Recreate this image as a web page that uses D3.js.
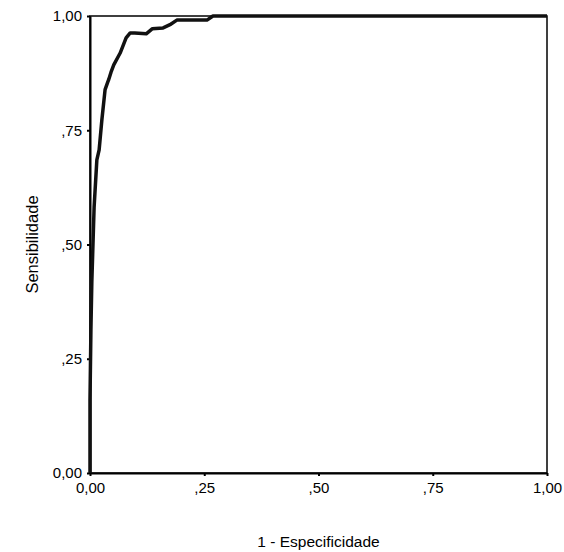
<!DOCTYPE html>
<html>
<head>
<meta charset="utf-8">
<script src="https://cdn.jsdelivr.net/npm/d3@7"></script>
<style>
  html, body { margin: 0; padding: 0; background: #fff; }
  svg { display: block; }
  text { font-family: "Liberation Sans", Arial, sans-serif; fill: #000; }
</style>
</head>
<body>
<svg id="chart" width="564" height="552"></svg>
<script>
// ROC curve: 1 - specificity (x) vs sensitivity (y)
const falsePositiveRate = [0, 0, 0.002, 0.004, 0.009, 0.015, 0.020, 0.026, 0.033, 0.039, 0.041, 0.046, 0.052, 0.066, 0.079, 0.088, 0.098, 0.123, 0.136, 0.160, 0.175, 0.190, 0.256, 0.269, 1];
const sensitivity      = [0, 0.160, 0.313, 0.418, 0.582, 0.685, 0.707, 0.773, 0.839, 0.856, 0.861, 0.877, 0.893, 0.919, 0.952, 0.963, 0.963, 0.961, 0.972, 0.974, 0.981, 0.991, 0.991, 1.0, 1];
const tickValues = [0, 0.25, 0.5, 0.75, 1];
const tickLabels = ["0,00", ",25", ",50", ",75", "1,00"];
const xTitle = "1 - Especificidade";
const yTitle = "Sensibilidade";

const svg = d3.select("#chart");
const plotLeft = 90, plotTop = 16, plotSize = 457;

const x = d3.scaleLinear().domain([0, 1]).range([plotLeft, plotLeft + plotSize]);
const y = d3.scaleLinear().domain([0, 1]).range([plotTop + plotSize, plotTop]);

// plot frame (top and right edges)
svg.append("rect")
  .attr("x", plotLeft).attr("y", plotTop)
  .attr("width", plotSize).attr("height", plotSize)
  .attr("fill", "none").attr("stroke", "#000").attr("stroke-width", 1.5);

const fmt = v => tickLabels[tickValues.indexOf(v)];

const xAxis = svg.append("g")
  .attr("transform", `translate(0,${plotTop + plotSize})`)
  .call(d3.axisBottom(x).tickValues(tickValues).tickFormat(fmt).tickSizeInner(3).tickSizeOuter(0).tickPadding(6));
const yAxis = svg.append("g")
  .attr("transform", `translate(${plotLeft},0)`)
  .call(d3.axisLeft(y).tickValues(tickValues).tickFormat(fmt).tickSizeInner(3).tickSizeOuter(0).tickPadding(5));

[xAxis, yAxis].forEach(g => {
  g.select(".domain").attr("stroke", "#000").attr("stroke-width", 2);
  g.selectAll(".tick line").attr("stroke", "#000").attr("stroke-width", 2);
  g.selectAll(".tick text")
    .attr("font-family", "Liberation Sans, Arial, sans-serif")
    .attr("font-size", 15).attr("fill", "#000");
});

// ROC line
const pts = falsePositiveRate.map((v, i) => [v, sensitivity[i]]);
svg.append("path")
  .datum(pts)
  .attr("fill", "none")
  .attr("stroke", "#111")
  .attr("stroke-width", 3.5)
  .attr("stroke-linejoin", "round")
  .attr("d", d3.line().x(d => x(d[0])).y(d => y(d[1])));

// axis titles
svg.append("text")
  .attr("x", plotLeft + plotSize / 2).attr("y", 547)
  .attr("text-anchor", "middle").attr("font-size", 15.5)
  .text(xTitle);
svg.append("text")
  .attr("transform", `translate(38,${plotTop + plotSize / 2}) rotate(-90)`)
  .attr("text-anchor", "middle").attr("font-size", 16.5)
  .text(yTitle);
</script>
</body>
</html>
